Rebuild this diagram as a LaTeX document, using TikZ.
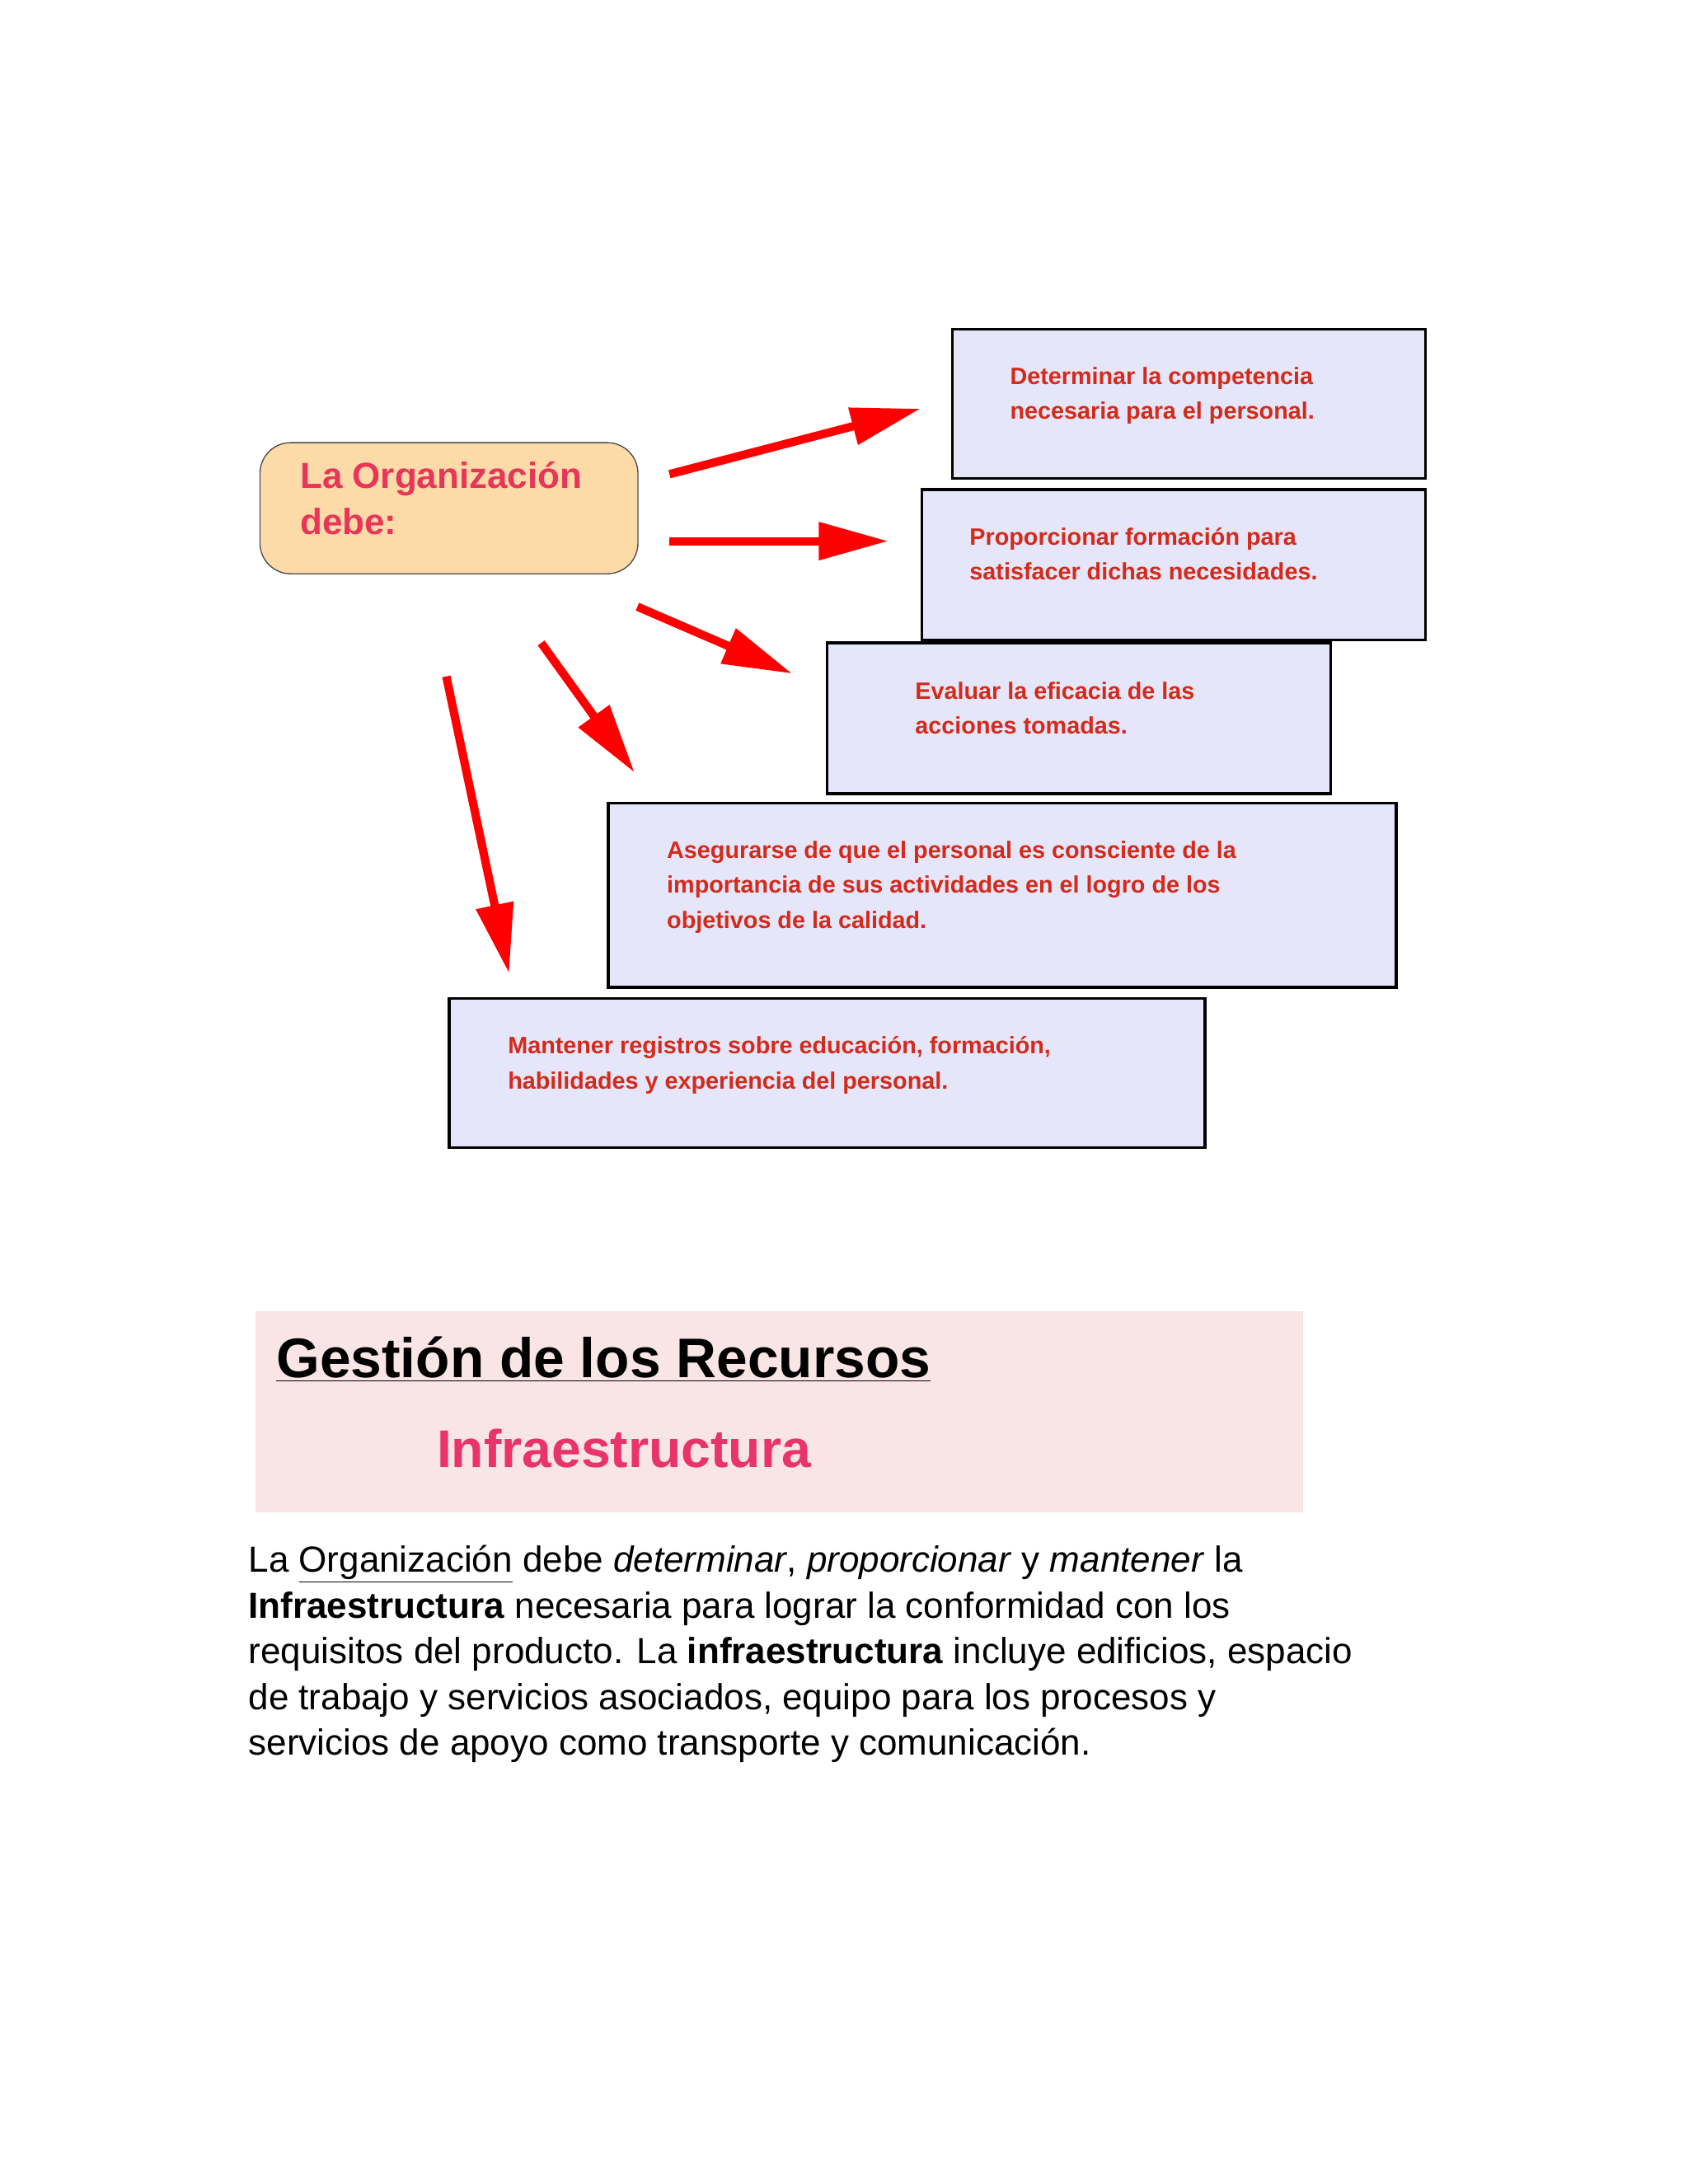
\documentclass[tikz,border=0pt]{standalone}
\usepackage{fontspec}
\setmainfont{Liberation Sans}
\usetikzlibrary{arrows.meta}
\definecolor{boxfill}{HTML}{E6E6FA}
\definecolor{boxtxt}{HTML}{D42A1A}
\definecolor{orgfill}{HTML}{FDDBA8}
\definecolor{orgtxt}{HTML}{E8365A}
\definecolor{pinkbg}{HTML}{F9E4E6}
\definecolor{titlepink}{HTML}{E8336B}
\tikzset{
  x=1pt,y=-1pt,
  stepbox/.style={draw=black,line width=2pt,fill=boxfill,anchor=north west,inner sep=0pt},
  steptxt/.style={anchor=north west,inner sep=0pt,align=left,text=boxtxt,font=\fontsize{17}{25}\selectfont\bfseries},
  redarrow/.style={draw=red,line width=6pt,-{Triangle[length=50pt,width=26pt]}}
}
\begin{document}
\begin{tikzpicture}
\useasboundingbox (0,0) rectangle (1210,1566);
\fill[white] (0,0) rectangle (1210,1566);
% boxes
\node[stepbox,minimum width=339,minimum height=107] (b1) at (682,235) {};
\node[steptxt] (t1) at (724,263) {Determinar la competencia\\necesaria para el personal.};
\node[stepbox,minimum width=361,minimum height=108] (b2) at (660,350) {};
\node[steptxt] (t2) at (695,378) {Proporcionar formación para\\satisfacer dichas necesidades.};
\node[stepbox,minimum width=361,minimum height=108] (b3) at (592,460) {};
\node[steptxt] (t3) at (656,489) {Evaluar la eficacia de las\\acciones tomadas.};
\node[stepbox,minimum width=565,minimum height=132] (b4) at (435,575) {};
\node[steptxt] (t4) at (478,603) {Asegurarse de que el personal es consciente de la\\importancia de sus actividades en el logro de los\\objetivos de la calidad.};
\node[stepbox,minimum width=542,minimum height=107] (b5) at (321,715) {};
\node[steptxt] (t5) at (364,743) {Mantener registros sobre educación, formación,\\habilidades y experiencia del personal.};
% org
\node[draw=black!70,line width=0.8pt,fill=orgfill,rounded corners=22pt,anchor=north west,minimum width=271,minimum height=94] (org) at (186,317) {};
\node[anchor=north west,inner sep=0pt,align=left,text=orgtxt,font=\fontsize{26}{33}\selectfont\bfseries] (orgt) at (215,331) {La Organización\\debe:};
% arrows
\coordinate (s1) at (480,340); \coordinate (e1) at (660,293);
\coordinate (s2) at (480,388); \coordinate (e2) at (637,388);
\coordinate (s3) at (457,435); \coordinate (e3) at (568,483);
\coordinate (s4) at (388,461); \coordinate (e4) at (455,554);
\coordinate (s5) at (320,485); \coordinate (e5) at (365,698);
\draw[redarrow] (s1) -- (e1);
\draw[redarrow] (s2) -- (e2);
\draw[redarrow] (s3) -- (e3);
\draw[redarrow] (s4) -- (e4);
\draw[redarrow] (s5) -- (e5);
% bottom
\node[fill=pinkbg,anchor=north west,minimum width=751,minimum height=144,inner sep=0pt] (pink) at (183,940) {};
\node[anchor=base west,inner sep=0pt,font=\fontsize{40}{48}\selectfont\bfseries] (title) at (198,988) {\underline{Gestión de los Recursos}};
\node[anchor=base west,inner sep=0pt,text=titlepink,font=\fontsize{38}{46}\selectfont\bfseries] (sub) at (313,1052) {Infraestructura};
\node[anchor=north west,inner sep=0pt,align=left,font=\fontsize{26}{32.8}\selectfont] (para) at (178,1108) {La \underline{Organización} debe \textit{determinar}, \textit{proporcionar} y \textit{mantener} la\\\textbf{Infraestructura} necesaria para lograr la conformidad con los\\requisitos del producto. La \textbf{infraestructura} incluye edificios, espacio\\de trabajo y servicios asociados, equipo para los procesos y\\servicios de apoyo como transporte y comunicación.};
\end{tikzpicture}
\end{document}
